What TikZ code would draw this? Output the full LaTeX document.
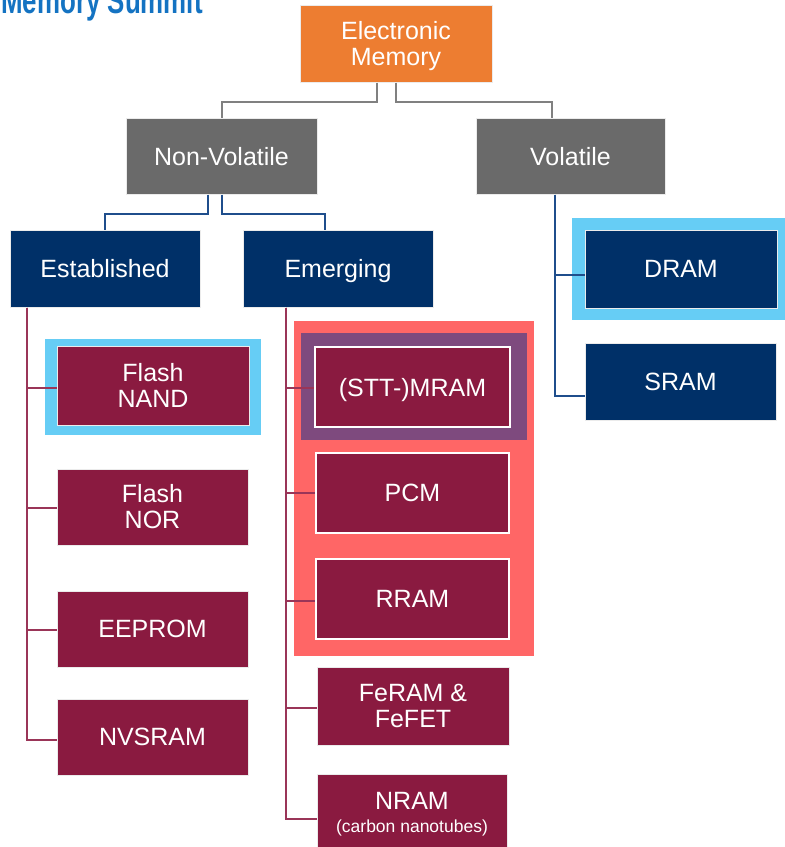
\documentclass[tikz,border=0pt]{standalone}
\usepackage{fontspec}
\setmainfont{Liberation Sans}
\usepackage{graphicx}
\definecolor{cOrange}{HTML}{ED7D31}
\definecolor{cGray}{HTML}{6A6A6A}
\definecolor{cNavy}{HTML}{003068}
\definecolor{cCrimson}{HTML}{8A1A40}
\definecolor{cSky}{HTML}{66CDF5}
\definecolor{cCoral}{HTML}{FF6666}
\definecolor{cPlum}{HTML}{7E4A7E}
\definecolor{cLogo}{HTML}{1473C2}
\definecolor{lGray}{HTML}{808080}
\definecolor{lNavy}{HTML}{1F4E8C}
\definecolor{lCrimson}{HTML}{9A3558}
\begin{document}
\begin{tikzpicture}[x=1pt,y=-1pt,
  box/.style={rectangle, inner sep=0pt, text=white, align=center,
    font=\fontsize{25}{26}\selectfont, draw=black!8, line width=1pt},
  oneline/.style={text depth=0pt},
  orangebox/.style={box, fill=cOrange},
  graybox/.style={box, oneline, fill=cGray},
  navybox/.style={box, oneline, fill=cNavy},
  crimsonbox/.style={box, fill=cCrimson},
  framed/.style={draw=white, line width=2pt},
  boxtext/.style={inner sep=0pt, text=white, align=center,
    font=\fontsize{25}{26}\selectfont},
  grayline/.style={draw=lGray, line width=2pt},
  navyline/.style={draw=lNavy, line width=2pt},
  crimsonline/.style={draw=lCrimson, line width=2pt},
]
\useasboundingbox (0,0) rectangle (785,847);
\clip (0,0) rectangle (785,847);

% logo text at the top left corner
\node[anchor=base east, inner sep=0pt, text=cLogo,
  font=\fontsize{37}{37}\selectfont\bfseries] (logo) at (203,13)
  {\scalebox{0.70}[1]{Memory Summit}};

% highlight backgrounds
\fill[cSky] (45,339) rectangle (261,435);
\fill[cSky] (572,218) rectangle (785,320);
\fill[cCoral] (294,321) rectangle (534,656);
\fill[cPlum] (301,333) rectangle (527,440);

% boxes
\node[orangebox, minimum width=192pt, minimum height=77pt] (em) at (396,43.5) {};
\node[boxtext] (emtext) at ([yshift=-3pt]em.center) {Electronic\\Memory};
\node[graybox, minimum width=191pt, minimum height=76pt] (nv) at (221.5,156) {Non-Volatile};
\node[graybox, minimum width=189pt, minimum height=76pt] (vol) at (570.5,156) {Volatile};
\node[navybox, minimum width=190pt, minimum height=77pt] (est) at (105,268.5) {Established};
\node[navybox, minimum width=190pt, minimum height=77pt] (emg) at (338,268.5) {Emerging};
\node[navybox, minimum width=192pt, minimum height=78pt] (dram) at (681,269) {DRAM};
\node[navybox, minimum width=191pt, minimum height=77pt] (sram) at (680.5,381.5) {SRAM};

\node[crimsonbox, minimum width=192pt, minimum height=79pt] (nand) at (153,385.5) {Flash\\NAND};
\node[crimsonbox, minimum width=191pt, minimum height=76pt] (nor) at (152.5,507) {Flash\\NOR};
\node[crimsonbox, oneline, minimum width=191pt, minimum height=76pt] (eeprom) at (152.5,629) {EEPROM};
\node[crimsonbox, oneline, minimum width=191pt, minimum height=76pt] (nvsram) at (152.5,737) {NVSRAM};

\node[crimsonbox, oneline, framed, minimum width=195pt, minimum height=80pt] (mram) at (412.5,387) {(STT-)MRAM};
\node[crimsonbox, oneline, framed, minimum width=193pt, minimum height=80pt] (pcm) at (412.5,493) {PCM};
\node[crimsonbox, oneline, framed, minimum width=193pt, minimum height=80pt] (rram) at (412.5,599) {RRAM};
\node[crimsonbox, minimum width=192pt, minimum height=78pt] (feram) at (413,706) {FeRAM \&\\FeFET};
\node[crimsonbox, minimum width=190pt, minimum height=80pt] (nram) at (412,814)
  {NRAM\\[-3pt]{\fontsize{17.5}{20}\selectfont(carbon nanotubes)}};

% tree connectors
\draw[grayline] ([xshift=-19pt]em.south) -- ++(0,19) -| (nv.north);
\draw[grayline] (em.south) -- ++(0,19) -| ([xshift=-18.5pt]vol.north);

\draw[navyline] ([xshift=-13.5pt]nv.south) -- ++(0,19) -| (est.north);
\draw[navyline] (nv.south) -- ++(0,19) -| ([xshift=-13pt]emg.north);

\draw[navyline] ([xshift=-15.5pt]vol.south) |- ([yshift=-6pt]dram.west);
\draw[navyline] ([xshift=-15.5pt]vol.south) |- ([yshift=-14pt]sram.west);

\draw[crimsonline] ([xshift=-78pt]est.south) |- ([yshift=-2.5pt]nand.west);
\draw[crimsonline] ([xshift=-78pt]est.south) |- ([yshift=-1pt]nor.west);
\draw[crimsonline] ([xshift=-78pt]est.south) |- ([yshift=-1pt]eeprom.west);
\draw[crimsonline] ([xshift=-78pt]est.south) |- ([yshift=-3pt]nvsram.west);

\draw[crimsonline] ([xshift=-52pt]emg.south) |- ([yshift=-1pt]mram.west);
\draw[crimsonline] ([xshift=-52pt]emg.south) |- (pcm.west);
\draw[crimsonline] ([xshift=-52pt]emg.south) |- ([yshift=-2pt]rram.west);
\draw[crimsonline] ([xshift=-52pt]emg.south) |- ([yshift=-2pt]feram.west);
\draw[crimsonline] ([xshift=-52pt]emg.south) |- ([yshift=-5pt]nram.west);
\end{tikzpicture}
\end{document}
